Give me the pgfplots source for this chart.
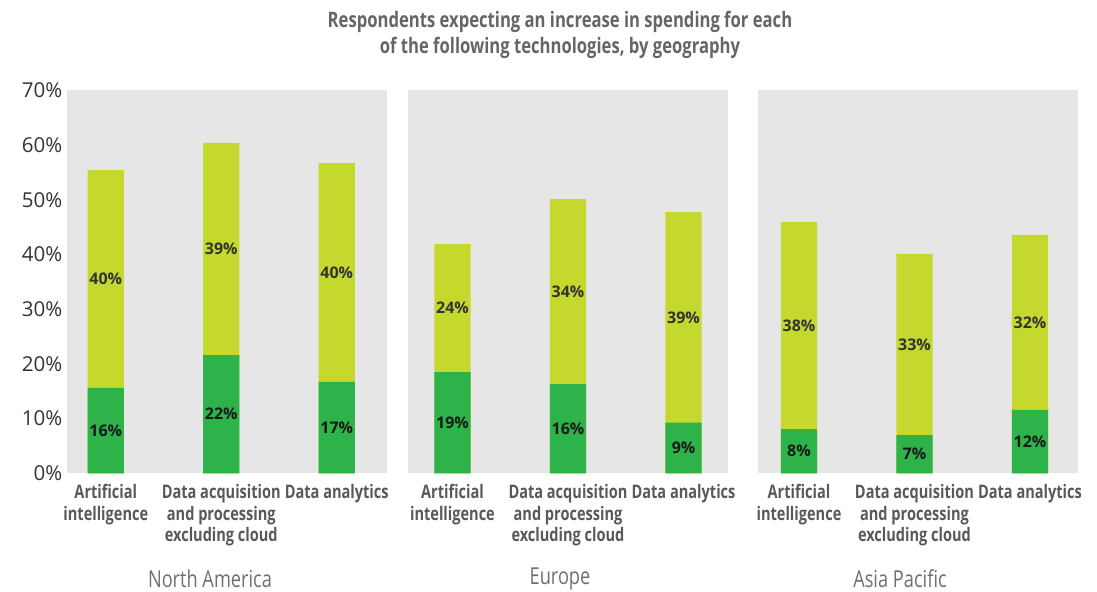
\documentclass[border=0pt]{standalone}
\usepackage{fontspec}
\setmainfont{Open Sans}
\newfontfamily\condfont{Open Sans}[FakeStretch=0.78]
\usepackage{pgfplots}
\usepackage{pgfplotstable}
\pgfplotsset{compat=1.18}
\definecolor{dgreen}{RGB}{45,179,74}
\definecolor{lime}{RGB}{197,216,46}
\definecolor{bggray}{RGB}{230,230,230}
\definecolor{titlegray}{RGB}{100,101,104}
\definecolor{regiongray}{RGB}{110,111,114}
\definecolor{catgray}{RGB}{88,89,91}
\definecolor{tickcol}{RGB}{51,51,51}

\pgfplotstableread{
x g l gl ll
0 15.6 39.8 16 40
1 21.6 38.8 22 39
2 16.7 40.0 17 40
}\NA
\pgfplotstableread{
x g l gl ll
0 18.5 23.4 19 24
1 16.3 33.8 16 34
2 9.25 38.5 9 39
}\EU
\pgfplotstableread{
x g l gl ll
0 8.1 37.8 8 38
1 7.0 33.1 7 33
2 11.6 32.0 12 32
}\AP

\pgfplotsset{
  panel/.style={
    scale only axis, width=240pt, height=287.25pt,
    ymin=0, ymax=70,
    axis background/.style={fill=bggray},
    axis line style={draw=none},
    major tick length=0pt,
    xtick={0,1,2},
    xticklabels={{Artificial\\intelligence},{Data acquisition\\and processing\\excluding cloud},{Data analytics}},
    xticklabel style={font=\condfont\bfseries\fontsize{14}{16}\selectfont, text=catgray, align=center, anchor=north, yshift=-5pt},
    ytick={0,10,...,70},
    yticklabel={\pgfmathprintnumber{\tick}\%},
    /pgf/number format/assume math mode=true,
    yticklabel style={font=\fontsize{15.4}{17}\selectfont, text=tickcol},
  },
  barlime/.style={ybar, bar width=27.2pt, bar shift=0pt, fill=lime, draw=none},
  bargreen/.style={ybar, bar width=27.2pt, bar shift=0pt, fill=dgreen, draw=none},
  lab/.style={draw=none, mark=none, nodes near coords={\pgfmathprintnumber{\pgfplotspointmeta}\%}, point meta=explicit,
    every node near coord/.append style={anchor=center, font=\bfseries\fontsize{12}{14}\selectfont, text=#1}},
}
\tikzset{region/.style={font=\condfont\fontsize{17.5}{20}\selectfont, text=regiongray, inner sep=0.5pt}}

\begin{document}
\begin{tikzpicture}
\path[use as bounding box] (-50.25pt,-89pt) rectangle (772.5pt,355pt);

\begin{axis}[panel, at={(0pt,0pt)}, xmin=-0.336, xmax=2.435]
\addplot[barlime] table[x=x, y expr=\thisrow{g}+\thisrow{l}] {\NA};
\addplot[bargreen] table[x=x, y=g] {\NA};
\addplot[lab={black!90}] table[x=x, y expr=\thisrow{g}/2, meta=gl] {\NA};
\addplot[lab={black!80}] table[x=x, y expr=\thisrow{g}+\thisrow{l}/2, meta=ll] {\NA};
\end{axis}

\begin{axis}[panel, at={(255.75pt,0pt)}, xmin=-0.385, xmax=2.385, ytick=\empty]
\addplot[barlime] table[x=x, y expr=\thisrow{g}+\thisrow{l}] {\EU};
\addplot[bargreen] table[x=x, y=g] {\EU};
\addplot[lab={black!90}] table[x=x, y expr=\thisrow{g}/2, meta=gl] {\EU};
\addplot[lab={black!80}] table[x=x, y expr=\thisrow{g}+\thisrow{l}/2, meta=ll] {\EU};
\end{axis}

\begin{axis}[panel, at={(518.25pt,0pt)}, xmin=-0.355, xmax=2.416, ytick=\empty]
\addplot[barlime] table[x=x, y expr=\thisrow{g}+\thisrow{l}] {\AP};
\addplot[bargreen] table[x=x, y=g] {\AP};
\addplot[lab={black!90}] table[x=x, y expr=\thisrow{g}/2, meta=gl] {\AP};
\addplot[lab={black!80}] table[x=x, y expr=\thisrow{g}+\thisrow{l}/2, meta=ll] {\AP};
\end{axis}

\node[font=\condfont\bfseries\fontsize{16}{19.5}\selectfont, text=titlegray, align=center] at (369.75pt,329pt)
  {Respondents expecting an increase in spending for each\\of the following technologies, by geography};

\node[region] at (107.25pt,-79pt) {North America};
\node[region] at (369.75pt,-79pt) {Europe};
\node[region] at (624.75pt,-79pt) {Asia Pacific};
\end{tikzpicture}
\end{document}
